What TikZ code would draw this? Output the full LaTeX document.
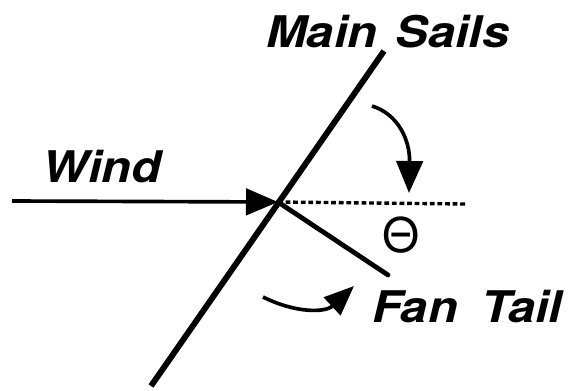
\documentclass[tikz,border=0pt]{standalone}
\usepackage{fontspec}
\usetikzlibrary{arrows.meta}
\newfontfamily\sailfont[FakeStretch=1.12]{TeX Gyre Heros}
\newfontfamily\anglefont{TeX Gyre Heros}
\tikzset{
  lbl/.style={font=\sailfont\bfseries\itshape\fontsize{31}{31}\selectfont,inner sep=0pt,anchor=base west},
  bigtip/.style={-{Triangle[length=8mm,width=6.6mm]}},
  smalltip/.style={-{Triangle[length=7.5mm,width=6mm]}},
}

\begin{document}
\begin{tikzpicture}[x=0.025cm,y=-0.025cm]
    \useasboundingbox (0,0) rectangle (571,390);
    % geometry (picture pixels)
    \coordinate (pivot) at (278,202);
    \coordinate (sailtop) at (384,51);
    \coordinate (sailbot) at (151,386);
    \coordinate (windfrom) at (12,201);
    \coordinate (refend) at (466,204);
    \coordinate (tailend) at (388,275);
    \coordinate (turnfrom) at (372,106);
    \coordinate (turnto) at (409,193);
    \coordinate (swingfrom) at (263,297);
    \coordinate (swingto) at (354,286);
    % sail, tail and reference line
    \draw[line width=4.2pt] (sailbot)--(sailtop);
    \draw[line width=2.4pt,dash pattern=on 3.4pt off 2pt] (pivot)--(refend);
    \draw[line width=3.4pt,line cap=round] (pivot)--(tailend);
    \draw[line width=2.6pt,bigtip] (windfrom)--(pivot);
    % turning arrows
    \draw[line width=2.6pt,bigtip] (turnfrom) .. controls (398,114) and (410,140) .. (turnto);
    \draw[line width=2.6pt,smalltip] (swingfrom) .. controls (295,313) and (325,313) .. (swingto);
    % labels
    \node[lbl] (mainsails) at (266,47) {Main\hspace{4.5mm}Sails};
    \node[lbl] (wind) at (42,182) {Wind};
    \node[lbl] (fantail) at (372,322) {Fan\hspace{6mm}Tail};
    \node[font=\anglefont\fontsize{34}{34}\selectfont,inner sep=0pt,anchor=base] (theta) at (401,252) {Θ};
  \end{tikzpicture}
\end{document}
